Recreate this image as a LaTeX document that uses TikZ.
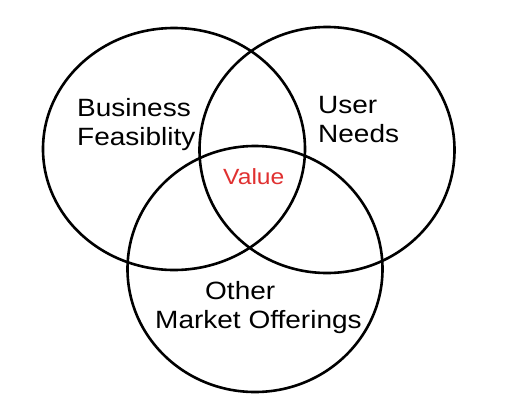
\documentclass[tikz,border=0pt]{standalone}
\usepackage{fontspec}
\setmainfont[FakeStretch=1.12]{Liberation Sans}
\usetikzlibrary{shapes.geometric}
\definecolor{valuered}{HTML}{E03131}
\newcommand{\vennset}[4]{
  \node[setring, minimum width=#3, minimum height=#4] (#1) at (#2) {};
}
\tikzset{setring/.style = {draw, ellipse, line width=2.6pt, inner sep=0pt},
         setlabel/.style = {align=left, anchor=north west, inner sep=0pt,
                            font=\fontsize{25}{29}\selectfont}}

\begin{document}
\begin{tikzpicture}[x=1pt,y=-1pt]
	\useasboundingbox (0,0) rectangle (510,418);
	\vennset{B}{174,149}{262pt}{242pt}
	\vennset{U}{327,150}{255pt}{246pt}
	\vennset{O}{255,269}{255pt}{246pt}
	\node[setlabel] (BL) at (77,98) {Business\\Feasiblity};
	\node[setlabel] (UL) at (318,96) {User\\Needs};
	\node[setlabel] (OL) at (155,281) {\hspace*{50pt}Other\\Market Offerings};
	\node[setlabel, text=valuered, font=\fontsize{22}{26}\selectfont] (V) at (223,168) {Value};
\end{tikzpicture}
\end{document}
